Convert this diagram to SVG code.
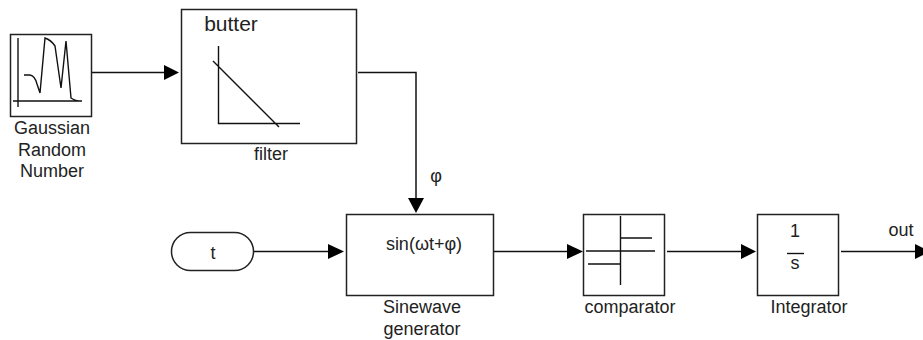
<svg xmlns="http://www.w3.org/2000/svg" width="923" height="340" viewBox="0 0 923 340">
<defs>
<style>
text{font-family:"Liberation Sans",Arial,sans-serif;font-size:18px;fill:#222;text-anchor:middle}
.b{fill:#fff;stroke:#222;stroke-width:1.5}
.l{fill:none;stroke:#111;stroke-width:1.4}
.c{fill:none;stroke:#111;stroke-width:1.5}
.a{fill:#000;stroke:none}
</style>
</defs>
<rect width="923" height="340" fill="#fff"/>
<g id="connectors">
<path class="c" d="M90 72.500H164"/><polygon class="a" points="164,65 179,72.500 164,80"/>
<path class="c" d="M358 72.500H416V198"/><polygon class="a" points="408,198 424,198 416,213"/>
<path class="c" d="M254 251.500H329"/><polygon class="a" points="328,244 344,251.500 328,259"/>
<path class="c" d="M493 251.500H568"/><polygon class="a" points="567,244 583,251.500 567,259"/>
<path class="c" d="M667 251.500H742"/><polygon class="a" points="741,244 756,251.500 741,259"/>
<path class="c" d="M841 251.500H916"/><polygon class="a" points="915,244 923,248 923,255 915,259"/>
</g>
<g id="gaussian">
<rect class="b" x="10.500" y="34.500" width="81" height="82"/>
<path class="l" d="M18 38V107M13 101H82M24 75H30Q35 76 37 84L40 93L45 38Q51 40 55 46L61 88L66 41L71 98Q75 101 82 101"/>
<text x="52" y="134">Gaussian</text><text x="52" y="156">Random</text><text x="52" y="177">Number</text>
</g>
<g id="filter">
<rect class="b" x="181.500" y="9.500" width="175" height="134"/>
<text x="231" y="31" style="font-size:21px">butter</text>
<path class="l" d="M218.500 46V123.500H300M213 61L279 127"/>
<text x="271" y="160">filter</text>
</g>
<g id="phi-label"><text x="436" y="182">φ</text></g>
<g id="t">
<rect class="b" x="171.500" y="232.500" width="82" height="38" rx="19"/>
<text x="213" y="259">t</text>
</g>
<g id="sinewave">
<rect class="b" x="346.500" y="214.500" width="147" height="81"/>
<text x="424" y="250">sin(ωt+φ)</text>
<text x="422" y="313">Sinewave</text><text x="422" y="335">generator</text>
</g>
<g id="comparator">
<rect class="b" x="583.500" y="214.500" width="81" height="81"/>
<path class="l" d="M620.500 216V285M621 238H652M586 251H655M588 264H621"/>
<text x="630" y="313">comparator</text>
</g>
<g id="integrator">
<rect class="b" x="757.500" y="214.500" width="81" height="81"/>
<text x="795" y="237">1</text>
<path class="l" d="M787 253.500H804"/>
<text x="795" y="269">s</text>
<text x="809" y="313">Integrator</text>
</g>
<g id="out-label"><text x="901" y="236">out</text></g>
</svg>
